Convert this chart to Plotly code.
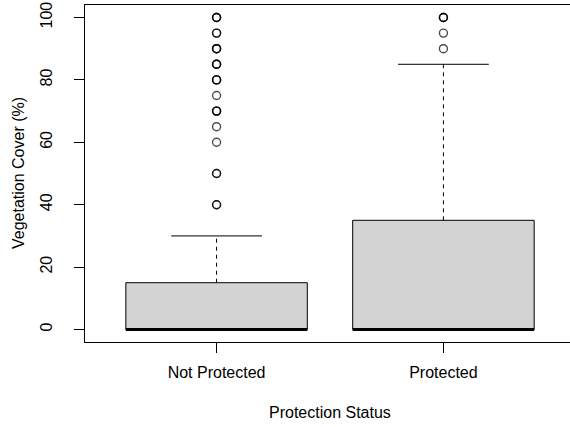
import plotly.graph_objects as go

# ---- data ----
categories = ["Not Protected", "Protected"]
q1 = [0, 0]
median = [0, 0]
q3 = [15, 35]
whisker_low = [0, 0]
whisker_high = [30, 85]
# outliers (repeated values = overlapping observations)
outliers = [
    [100, 100, 100, 95, 95, 90, 90, 90, 85, 85, 85, 80, 80, 80, 75,
     70, 70, 70, 65, 60, 50, 50, 40, 40],
    [100, 100, 100, 95, 90],
]
y_ticks = [0, 20, 40, 60, 80, 100]
x_title = "Protection Status"
y_title = "Vegetation Cover (%)"

FONT = "Liberation Sans, Arial, Helvetica, sans-serif"
BOX_HALF = 0.4
CAP_HALF = 0.2

fig = go.Figure()
for i, cat in enumerate(categories):
    x0 = i + 1
    # box
    fig.add_trace(go.Scatter(
        x=[x0 - BOX_HALF, x0 + BOX_HALF, x0 + BOX_HALF, x0 - BOX_HALF, x0 - BOX_HALF],
        y=[q1[i], q1[i], q3[i], q3[i], q1[i]],
        mode="lines", fill="toself", fillcolor="#D3D3D3",
        line=dict(color="black", width=1), hoverinfo="skip"))
    # upper whisker (dashed)
    fig.add_trace(go.Scatter(
        x=[x0, x0], y=[q3[i], whisker_high[i]], mode="lines",
        line=dict(color="black", width=1, dash="4px,4px"), hoverinfo="skip"))
    # lower whisker (dashed)
    fig.add_trace(go.Scatter(
        x=[x0, x0], y=[q1[i], whisker_low[i]], mode="lines",
        line=dict(color="black", width=1, dash="4px,4px"), hoverinfo="skip"))
    # caps
    for w in (whisker_high[i], whisker_low[i]):
        fig.add_trace(go.Scatter(
            x=[x0 - CAP_HALF, x0 + CAP_HALF], y=[w, w], mode="lines",
            line=dict(color="black", width=1), hoverinfo="skip"))
    # median
    fig.add_trace(go.Scatter(
        x=[x0 - BOX_HALF, x0 + BOX_HALF], y=[median[i], median[i]], mode="lines",
        line=dict(color="black", width=3), hoverinfo="skip"))
    # outliers
    fig.add_trace(go.Scatter(
        x=[x0] * len(outliers[i]), y=outliers[i], mode="markers",
        marker=dict(symbol="circle-open", size=8, color="black", opacity=0.7,
                    line=dict(width=1.4, color="black")),
        hoverinfo="skip"))

fig.update_layout(
    width=570, height=427,
    margin=dict(l=85, r=0, t=5, b=85),
    paper_bgcolor="white", plot_bgcolor="white",
    showlegend=False,
    font=dict(family=FONT, size=16, color="black"),
    xaxis=dict(range=[0.42, 2.558], tickvals=[1, 2], ticktext=categories,
               showgrid=False, zeroline=False, showline=True, mirror=True,
               linecolor="black", linewidth=1, ticks="outside", ticklen=10,
               tickcolor="black", tickwidth=1, ticklabelstandoff=6,
               tickfont=dict(size=16, family=FONT)),
    yaxis=dict(range=[-4, 104], tickvals=y_ticks,
               showgrid=False, zeroline=False, showline=True, mirror=False,
               linecolor="black", linewidth=1, ticks="outside", ticklen=10,
               tickcolor="black", tickwidth=1, tickangle=-90,
               ticklabelstandoff=16,
               tickfont=dict(size=16, family=FONT)),
    annotations=[
        dict(text=x_title, xref="paper", yref="paper", x=0.505, y=0,
             xanchor="center", yanchor="middle", yshift=-70, showarrow=False,
             font=dict(size=16, family=FONT)),
        dict(text=y_title, xref="paper", yref="paper", x=0, y=0.5,
             xanchor="center", yanchor="middle", xshift=-66.5, textangle=-90,
             showarrow=False, font=dict(size=16, family=FONT)),
    ],
)

fig.write_html(
    "out.html",
    config={"displayModeBar": False, "staticPlot": True},
    post_script="document.body.style.margin='0';document.body.style.overflow='hidden';",
)
